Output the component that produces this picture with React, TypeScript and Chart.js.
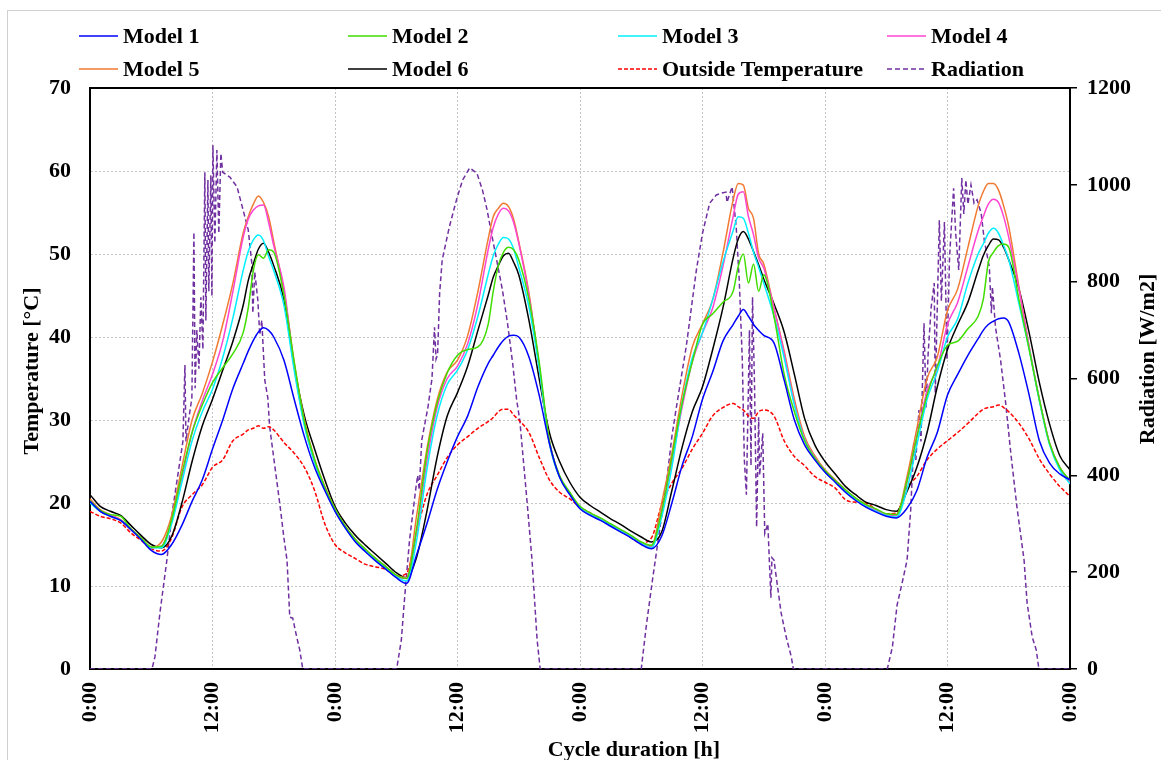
import React, { useEffect, useRef } from 'react';
import { Chart, registerables } from 'chart.js';

Chart.register(...registerables);

const FONT = "'Liberation Serif', 'Times New Roman', serif";

// time axis (hours of the 4-day cycle)
const hours = [
  0, 1, 2, 3, 4, 5, 6, 7, 8, 9, 10, 11, 12, 13, 14,
  15, 15.5, 16, 16.5, 17, 17.5, 18,
  19, 20, 21, 22, 23, 24, 25, 26, 27, 28, 29, 30, 31, 32, 33, 34, 35, 36, 37, 38,
  39, 39.5, 40, 40.5, 41, 41.5, 42,
  43, 44, 45, 46, 47, 48, 49, 50, 51, 52, 53, 54, 55, 56, 57, 58, 59, 60, 61, 62,
  63, 63.5, 64, 64.5, 65, 65.5, 66,
  67, 68, 69, 70, 71, 72, 73, 74, 75, 76, 77, 78, 79, 80, 81, 82, 83, 84, 85, 86,
  87, 87.5, 88, 88.5, 89, 89.5, 90,
  91, 92, 93, 94, 95, 96,
];

const model1 = [
  20.2, 19.0, 18.4, 17.9, 16.8, 15.6, 14.3, 13.8, 15.0, 17.3, 20.2, 22.8, 26.5, 30.0, 33.8,
  36.8, 38.3, 39.6, 40.6, 41.1, 40.8, 40.0,
  37.2, 32.5, 28.0, 24.3, 21.5, 19.0, 17.0, 15.3, 14.1, 13.0, 12.0, 11.0, 10.3, 13.8, 17.5, 21.6, 25.0, 28.0, 30.5, 34.0,
  36.8, 37.8, 38.8, 39.6, 40.1, 40.2, 40.0,
  37.6, 33.0, 27.2, 23.1, 21.0, 19.3, 18.5, 17.9, 17.2, 16.5, 15.8, 15.0, 14.5, 16.0, 20.0, 24.5, 28.0, 32.5, 35.8, 39.5,
  41.5, 42.5, 43.3, 42.5, 41.5, 40.8, 40.2,
  39.3, 34.8, 30.0, 27.0, 25.2, 23.7, 22.5, 21.3, 20.3, 19.5, 18.9, 18.4, 18.2, 19.3, 21.5, 25.5, 28.5, 33.0, 35.5, 37.8,
  39.8, 40.8, 41.5, 41.9, 42.2, 42.3, 41.8,
  38.0, 33.0, 27.5, 24.8, 23.5, 22.8,
];

const model2 = [
  20.3, 19.1, 18.6, 18.4, 16.9, 15.8, 14.7, 14.8, 18.0, 23.5, 28.5, 31.8, 34.5, 36.3, 38.0,
  40.5, 43.5, 48.0, 49.9, 49.5, 50.5, 50.2,
  45.0, 37.0, 29.8, 25.2, 21.9, 19.3, 17.2, 15.6, 14.4, 13.3, 12.3, 11.3, 10.9, 17.0, 26.0, 32.0, 35.7, 37.8, 38.5, 38.8,
  41.5, 45.5, 48.6, 50.2, 50.8, 50.5, 49.3,
  44.5, 37.0, 27.5, 23.3, 21.3, 19.6, 18.8, 18.2, 17.5, 16.8, 16.1, 15.3, 14.9, 19.0, 25.5, 32.0, 37.0, 41.5, 42.8, 44.2,
  45.5, 48.5, 50.0, 46.5, 48.8, 45.5, 47.5,
  42.5, 35.5, 31.0, 27.5, 25.4, 23.9, 22.7, 21.6, 20.6, 19.8, 19.3, 18.7, 18.6, 22.5, 28.0, 33.0, 36.5, 39.0, 39.5, 41.0,
  42.5, 44.5, 49.0, 50.2, 51.0, 51.2, 50.8,
  44.5, 38.5, 32.5, 27.2, 24.3, 22.7,
];

const model3 = [
  20.0, 19.0, 18.4, 17.9, 16.8, 15.7, 14.6, 14.6, 17.5, 22.5, 27.5, 31.0, 33.7, 37.5, 42.3,
  48.0, 50.3, 51.7, 52.3, 51.6, 49.7, 48.0,
  43.8, 36.0, 29.3, 24.9, 21.7, 19.1, 17.0, 15.4, 14.2, 13.1, 12.1, 11.1, 10.6, 15.5, 24.0, 30.5, 34.3, 36.0, 38.5, 42.5,
  47.5, 49.8, 51.2, 52.0, 51.8, 50.6, 48.4,
  43.6, 36.2, 27.2, 23.1, 21.1, 19.4, 18.6, 18.0, 17.3, 16.6, 15.9, 15.1, 14.6, 18.3, 24.3, 32.0, 37.5, 40.5, 44.5, 49.0,
  52.8, 54.5, 54.3, 52.5, 50.2, 48.4, 46.5,
  42.5, 37.5, 31.8, 27.6, 25.4, 23.8, 22.6, 21.4, 20.4, 19.6, 19.0, 18.5, 18.3, 21.5, 27.0, 32.5, 35.8, 40.0, 42.2, 46.5,
  50.0, 51.2, 52.5, 53.1, 52.5, 51.0, 49.3,
  44.0, 38.5, 32.3, 27.0, 24.0, 22.3,
];

const model4 = [
  20.3, 19.0, 18.5, 17.9, 16.8, 15.7, 14.6, 14.8, 17.8, 23.0, 28.5, 32.3, 35.5, 39.5, 45.5,
  52.0, 54.2, 55.3, 55.8, 55.9, 53.8, 51.0,
  46.0, 36.5, 29.5, 25.0, 21.8, 19.2, 17.1, 15.5, 14.3, 13.2, 12.2, 11.2, 10.9, 16.5, 25.0, 31.5, 35.0, 36.5, 39.2, 44.0,
  50.5, 53.2, 54.8, 55.5, 55.2, 53.8, 51.3,
  45.0, 36.5, 27.3, 23.2, 21.2, 19.5, 18.7, 18.1, 17.4, 16.7, 16.0, 15.2, 14.8, 19.0, 25.0, 31.5, 37.0, 40.5, 43.5, 48.5,
  54.5, 57.2, 57.5, 54.5, 52.3, 49.5, 48.3,
  43.5, 38.0, 32.0, 27.7, 25.5, 23.9, 22.7, 21.5, 20.5, 19.7, 19.1, 18.6, 18.5, 22.3, 28.0, 33.5, 36.3, 41.5, 44.2, 48.5,
  52.8, 54.5, 56.0, 56.6, 56.2, 54.5, 52.0,
  45.8, 38.8, 32.5, 27.2, 24.2, 22.5,
];

const model5 = [
  20.5, 19.2, 18.6, 18.0, 16.9, 15.8, 14.7, 15.3, 18.5, 24.3, 30.0, 33.2, 37.0, 41.5, 46.5,
  52.5, 54.5, 56.0, 57.0, 56.2, 54.5, 51.5,
  45.5, 37.0, 30.0, 25.3, 22.0, 19.3, 17.2, 15.6, 14.4, 13.3, 12.3, 11.3, 11.0, 18.5, 26.5, 32.4, 35.8, 37.2, 40.2, 45.5,
  51.8, 54.5, 55.5, 56.1, 55.7, 54.2, 51.5,
  45.3, 36.5, 27.5, 23.2, 21.2, 19.5, 18.7, 18.1, 17.4, 16.7, 16.0, 15.2, 14.8, 20.0, 26.0, 33.0, 38.8, 41.6, 44.5, 50.1,
  56.5, 58.5, 58.3, 55.5, 54.3, 50.0, 48.8,
  43.5, 38.3, 32.5, 28.0, 25.7, 24.0, 22.8, 21.6, 20.6, 19.8, 19.2, 18.6, 18.6, 23.0, 29.0, 35.0, 37.6, 43.2, 45.8, 50.8,
  55.8, 57.5, 58.5, 58.5, 57.7, 55.8, 53.3,
  46.0, 38.8, 32.4, 27.2, 24.3, 22.5,
];

const model6 = [
  21.0, 19.6, 19.0, 18.5, 17.3, 16.1, 15.0, 14.6, 16.0, 20.0, 25.0, 29.3, 32.5, 36.0, 39.5,
  43.8, 46.8, 48.8, 50.6, 51.3, 50.2, 48.6,
  44.5, 36.5, 30.5, 26.5, 22.8, 19.6, 17.6, 16.1, 14.9, 13.8, 12.7, 11.6, 11.0, 13.5, 19.0, 25.5, 30.5, 33.3, 36.5, 40.8,
  45.0, 47.2, 48.6, 49.8, 50.1, 49.0, 47.5,
  42.0, 35.0, 28.5, 25.0, 22.5, 20.7, 19.7, 18.9, 18.1, 17.4, 16.6, 15.9, 15.3, 16.5, 21.5, 26.7, 31.0, 34.0, 38.5, 43.5,
  49.5, 51.8, 52.7, 51.8, 50.3, 48.7, 47.0,
  44.0, 40.6, 35.5, 30.2, 27.0, 25.0, 23.5, 22.0, 21.0, 20.1, 19.7, 19.2, 19.0, 21.3, 24.3, 28.5, 34.0, 38.5, 41.5, 44.2,
  48.0, 49.8, 51.0, 51.8, 51.7, 50.8, 49.3,
  45.8, 40.5, 34.5, 29.5, 25.7, 24.0,
];

const outsideTemp = [
  19.0, 18.4, 18.1, 17.6, 16.4, 15.5, 14.5, 14.2, 15.8, 19.5, 21.0, 22.2, 24.3, 25.2, 27.5,
  28.3, 28.8, 29.0, 29.3, 29.0, 29.2, 28.8,
  27.3, 26.0, 24.3, 21.5, 17.5, 15.0, 14.0, 13.3, 12.6, 12.3, 12.0, 11.2, 11.5, 16.5, 21.0, 23.3, 25.5, 27.0, 28.0, 29.0,
  29.8, 30.3, 31.0, 31.3, 31.3, 30.6, 30.0,
  28.5, 25.5, 22.8, 21.3, 20.5, 19.5, 18.8, 18.0, 17.3, 16.6, 15.8, 15.2, 15.8, 19.8, 22.4, 24.2, 26.5, 28.4, 30.5, 31.5,
  32.0, 31.6, 31.2, 30.5, 30.2, 31.0, 31.2,
  30.5, 27.5, 25.6, 24.5, 23.2, 22.5, 21.8, 20.4, 20.1, 20.0, 19.2, 18.7, 18.8, 21.8, 23.2, 25.2, 26.5, 27.5, 28.5, 29.6,
  30.8, 31.3, 31.5, 31.6, 31.8, 31.5, 31.0,
  29.6, 27.7, 25.3, 23.5, 22.0, 20.8,
];

// radiation (right axis), own time stamps
const radHours = [
  0, 6.07, 6.36, 6.85, 7.53, 8.1, 8.6, 9.1, 9.3, 9.4, 9.7, 9.98, 10.18, 10.3, 10.47, 10.67, 10.86, 11.06,
  11.25, 11.35, 11.55, 11.64, 11.84, 11.94, 12.04, 12.23, 12.43, 12.62, 12.82, 13.0, 13.7, 14.4, 15.0,
  15.5, 15.85, 15.95, 16.14, 16.44, 16.63, 16.83, 17.12, 17.42, 17.6, 18.1, 18.6, 19.0, 19.3, 19.57,
  19.86, 20.25, 20.55, 20.84,
  30.04, 30.5, 30.8, 31.3, 31.9, 32.1, 32.25, 32.5, 33.1, 33.5, 33.75, 33.9, 34.05, 34.25, 34.5, 35.2,
  35.9, 36.5, 37.2, 37.9, 38.45, 38.9, 39.4, 39.9, 40.4, 40.9, 41.4, 41.8, 42.1, 42.8, 43.3, 43.8, 44.1,
  54.0, 54.5, 55.1, 55.8, 56.5, 57.0, 57.4, 58.4, 59.4, 60.0, 60.7, 61.35, 61.9, 62.3, 62.4, 62.9, 63.3,
  63.6, 63.9, 64.1, 64.3, 64.6, 64.75, 64.9, 65.1, 65.3, 65.5, 65.6, 65.9, 66.1, 66.4, 66.7, 66.8, 67.0,
  67.7, 68.2, 68.7, 68.9,
  78.1, 78.6, 79.06, 79.55, 80.04, 80.4, 80.7, 80.9, 81.2, 81.4, 81.7, 81.9, 82.1, 82.4, 82.7, 82.8,
  83.2, 83.4, 83.7, 83.95, 84.2, 84.6, 84.8, 85.1, 85.4, 85.6, 85.8, 86.0, 86.3, 86.6, 86.9, 87.3, 87.6,
  88.1, 88.3, 88.4, 88.7, 89.2, 89.7, 90.2, 90.8, 91.5, 91.8, 92.3, 92.7, 92.95, 96,
];
const radValues = [
  0, 0, 25, 116, 225, 330, 400, 470, 628, 470, 520, 560, 902, 580, 700, 620, 768, 660,
  1026, 720, 1010, 780, 1020, 770, 1082, 880, 1072, 900, 1065, 1026, 1016, 996, 948,
  907, 838, 735, 820, 762, 690, 720, 597, 560, 500, 420, 340, 270, 225, 107,
  105, 66, 39, 0,
  0, 60, 142, 266, 370, 400, 370, 473, 540, 600, 706, 640, 650, 776, 845, 913,
  969, 1010, 1035, 1024, 989, 948, 892, 838, 783, 714, 632, 555, 514, 349, 225, 60, 0,
  0, 90, 184, 287, 390, 480, 535, 665, 824, 900, 962, 979, 983, 985, 964, 996, 913,
  803, 638, 432, 360, 700, 420, 768, 583, 293, 520, 400, 487, 280, 300, 147, 230, 225,
  116, 66, 25, 0,
  0, 45, 132, 177, 225, 330, 470, 432, 535, 470, 714, 540, 650, 747, 797, 570,
  927, 760, 923, 638, 850, 993, 900, 824, 1014, 940, 1010, 960, 1000, 962, 969, 941, 886,
  830, 735, 789, 706, 638, 549, 446, 335, 225, 136, 66, 39, 0, 0,
];

const xTickValues = [0, 12, 24, 36, 48, 60, 72, 84, 96];
const xTickLabels = ['0:00', '12:00', '0:00', '12:00', '0:00', '12:00', '0:00', '12:00', '0:00'];

const seriesLabels = ['Model 1', 'Model 2', 'Model 3', 'Model 4', 'Model 5', 'Model 6', 'Outside Temperature', 'Radiation'];
const seriesColors = ['#0000FF', '#3FDD00', '#00F0FF', '#FF44D2', '#F07A32', '#000000', '#FF0000', '#7030A0'];

const xTitle = 'Cycle duration [h]';
const yTitle = 'Temperature [°C]';
const y1Title = 'Radiation [W/m2]';

const LEG_X = [71, 340, 610, 879];
const LEG_Y = [25, 58];

const decorPlugin = {
  id: 'decor',
  afterDraw(chart: any) {
    const { ctx, chartArea: a } = chart;
    ctx.save();
    ctx.strokeStyle = '#000';
    ctx.lineWidth = 2;
    ctx.setLineDash([]);
    ctx.beginPath();
    ctx.moveTo(a.left, a.top);
    ctx.lineTo(a.right, a.top);
    ctx.stroke();

    ctx.fillStyle = '#000';
    ctx.font = `bold 22px ${FONT}`;
    ctx.textAlign = 'center';
    ctx.textBaseline = 'middle';
    ctx.fillText(xTitle, 626, 739);
    ctx.save();
    ctx.translate(24, 360);
    ctx.rotate(-Math.PI / 2);
    ctx.fillText(yTitle, 0, 0);
    ctx.restore();
    ctx.save();
    ctx.translate(1140, 348);
    ctx.rotate(-Math.PI / 2);
    ctx.fillText(y1Title, 0, 0);
    ctx.restore();

    chart.data.datasets.forEach((ds: any, i: number) => {
      const lx = LEG_X[i % 4];
      const ly = LEG_Y[Math.floor(i / 4)];
      ctx.strokeStyle = ds.borderColor;
      ctx.lineWidth = 1.5;
      ctx.setLineDash(ds.borderDash || []);
      ctx.beginPath();
      ctx.moveTo(lx, ly);
      ctx.lineTo(lx + 39, ly);
      ctx.stroke();
      ctx.setLineDash([]);
      ctx.textAlign = 'left';
      ctx.fillText(ds.label, lx + 44, ly + 1);
    });
    ctx.restore();
  },
};

export default function App() {
  const ref = useRef<HTMLCanvasElement>(null);
  useEffect(() => {
    if (!ref.current) return;
    const toPts = (vals: number[]) => hours.map((h, i) => ({ x: h, y: vals[i] }));
    const temps = [model1, model2, model3, model4, model5, model6, outsideTemp];
    const datasets: any[] = temps.map((vals, i) => ({
      label: seriesLabels[i],
      data: toPts(vals),
      borderColor: seriesColors[i],
      backgroundColor: seriesColors[i],
      borderWidth: 1.5,
      borderDash: i === 6 ? [4, 2] : [],
      pointRadius: 0,
      cubicInterpolationMode: 'monotone',
      yAxisID: 'y',
    }));
    datasets.push({
      label: seriesLabels[7],
      data: radHours.map((h, i) => ({ x: h, y: radValues[i] })),
      borderColor: seriesColors[7],
      backgroundColor: seriesColors[7],
      borderWidth: 1.5,
      borderDash: [5, 3],
      pointRadius: 0,
      tension: 0,
      yAxisID: 'y1',
    });
    const tickFont = { family: FONT, size: 22, weight: 'bold' as const };
    const chart = new Chart(ref.current, {
      type: 'line',
      data: { datasets },
      options: {
        responsive: false,
        animation: false,
        devicePixelRatio: 1,
        layout: { padding: { top: 77, left: 0, right: 0, bottom: 0 } },
        plugins: { legend: { display: false }, tooltip: { enabled: false } },
        scales: {
          x: {
            type: 'linear',
            min: 0,
            max: 96,
            afterFit: (s: any) => { s.height = 91; },
            ticks: {
              stepSize: 12,
              autoSkip: false,
              maxRotation: 90,
              minRotation: 90,
              padding: 13,
              color: '#000',
              font: tickFont,
              callback: (v: any) => {
                const k = xTickValues.indexOf(Number(v));
                return k >= 0 ? xTickLabels[k] : '';
              },
            },
            grid: { color: '#c4c4c4', lineWidth: 1, drawTicks: false },
            border: { display: true, color: '#000', width: 2, dash: [2, 2] },
          },
          y: {
            type: 'linear',
            position: 'left',
            min: 0,
            max: 70,
            afterFit: (s: any) => { s.width = 82; },
            ticks: { stepSize: 10, padding: 19, color: '#000', font: tickFont, callback: (v: any) => String(v) },
            grid: { color: '#c4c4c4', lineWidth: 1, drawTicks: false },
            border: { display: true, color: '#000', width: 2, dash: [2, 2] },
          },
          y1: {
            type: 'linear',
            position: 'right',
            min: 0,
            max: 1200,
            afterFit: (s: any) => { s.width = 91; },
            ticks: { stepSize: 200, padding: 10, color: '#000', font: tickFont, callback: (v: any) => String(v) },
            grid: { drawOnChartArea: false, drawTicks: true, tickLength: 7, color: '#000', lineWidth: 1.5 },
            border: { display: true, color: '#000', width: 2 },
          },
        },
      },
      plugins: [decorPlugin],
    } as any);
    return () => chart.destroy();
  }, []);

  return (
    <div
      style={{
        position: 'absolute',
        left: 7,
        top: 10,
        width: 1153,
        height: 749,
        borderTop: '1px solid #d0d0d0',
        borderLeft: '1px solid #d0d0d0',
        overflow: 'hidden',
        background: '#fff',
      }}
    >
      <canvas ref={ref} width={1153} height={749} style={{ display: 'block' }} />
    </div>
  );
}
